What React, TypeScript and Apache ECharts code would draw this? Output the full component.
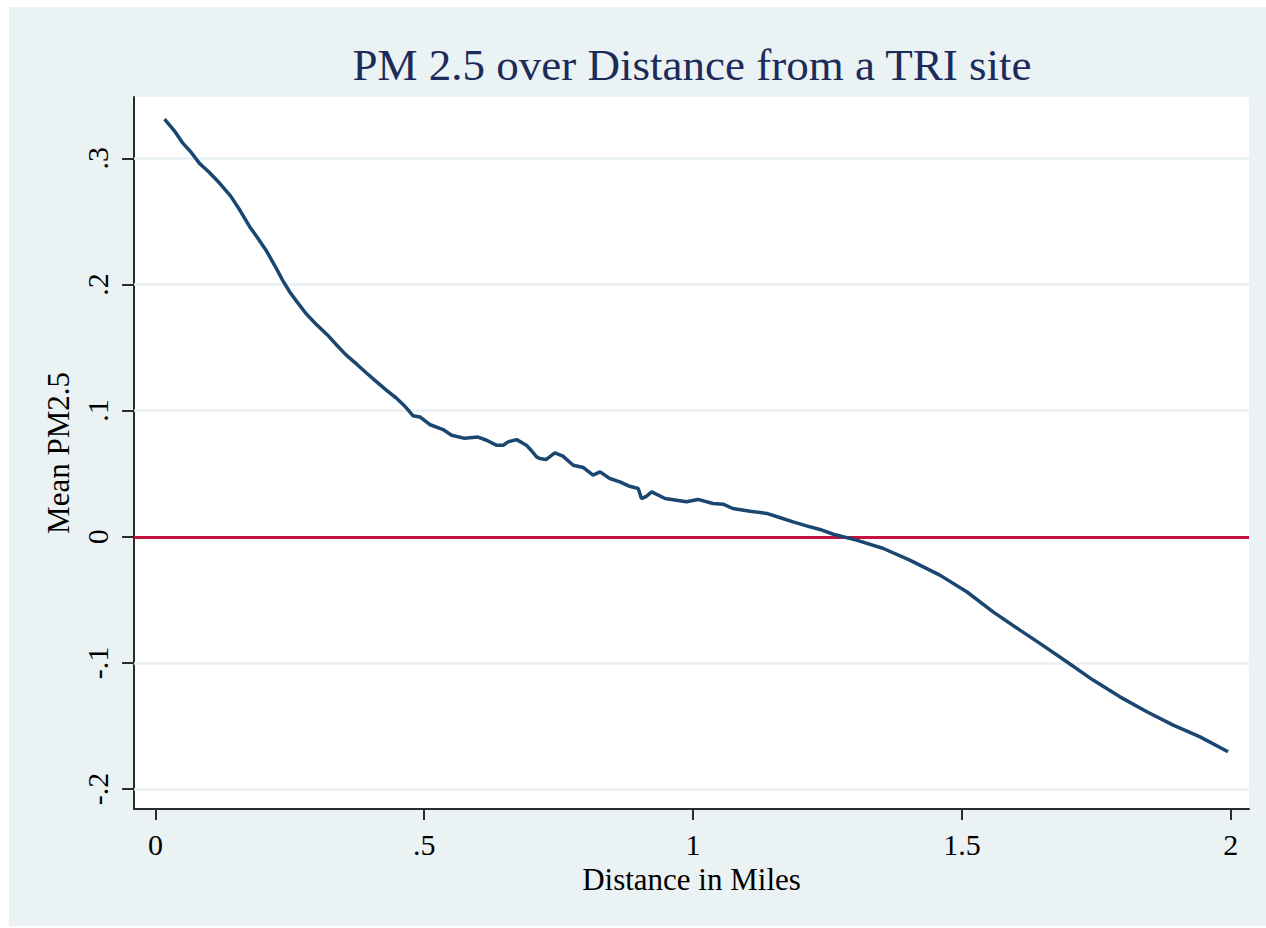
import React, { useEffect, useRef } from 'react';
import * as echarts from 'echarts';

const distance = [
  0.017, 0.035, 0.051, 0.066, 0.082, 0.1, 0.12, 0.14, 0.157, 0.175, 0.19, 0.206, 0.222, 0.237, 0.25,
  0.262, 0.28, 0.3, 0.32, 0.337, 0.355, 0.374, 0.392, 0.411, 0.43, 0.448, 0.465, 0.479, 0.492, 0.51,
  0.535, 0.551, 0.575, 0.6, 0.616, 0.634, 0.647, 0.656, 0.672, 0.69, 0.7, 0.709, 0.715, 0.727, 0.743,
  0.758, 0.777, 0.796, 0.814, 0.827, 0.845, 0.864, 0.882, 0.898, 0.904, 0.913, 0.923, 0.948, 0.969,
  0.988, 1.009, 1.037, 1.056, 1.074, 1.106, 1.137, 1.161, 1.186, 1.211, 1.236, 1.261, 1.304, 1.354,
  1.403, 1.459, 1.509, 1.558, 1.608, 1.645, 1.695, 1.744, 1.794, 1.844, 1.893, 1.943, 1.995,
];

const meanPM25 = [
  0.331, 0.322, 0.312, 0.305, 0.296, 0.289, 0.28, 0.27, 0.259, 0.246, 0.237, 0.227, 0.215, 0.203, 0.194,
  0.187, 0.177, 0.168, 0.16, 0.152, 0.144, 0.137, 0.13, 0.123, 0.116, 0.11, 0.103, 0.096, 0.095, 0.089,
  0.085, 0.0805, 0.078, 0.079, 0.0765, 0.0726, 0.0726, 0.0752, 0.077, 0.0726, 0.068, 0.0633, 0.062, 0.0613, 0.0665,
  0.0639, 0.0567, 0.0549, 0.0488, 0.0514, 0.0462, 0.0435, 0.04, 0.0383, 0.0303, 0.032, 0.0356, 0.0303, 0.029,
  0.0277, 0.0296, 0.0264, 0.0258, 0.0224, 0.0203, 0.0185, 0.0153, 0.0118, 0.0086, 0.0058, 0.002, -0.0027, -0.0093,
  -0.0185, -0.0304, -0.0436, -0.0595, -0.074, -0.0845, -0.0991, -0.1136, -0.1269, -0.1387, -0.1493, -0.1586, -0.1704,
];

const xTicks = [0, 0.5, 1, 1.5, 2];
const yTicks = [-0.2, -0.1, 0, 0.1, 0.2, 0.3];
const yGridValues = [-0.2, -0.1, 0.1, 0.2, 0.3];
const referenceValue = 0;

const titleText = 'PM 2.5 over Distance from a TRI site';
const xName = 'Distance in Miles';
const yName = 'Mean PM2.5';

const FONT = "'Liberation Serif', 'Times New Roman', serif";
const AXIS_COLOR = '#2b2b2b';

const fmt = (v: number) => {
  const s = String(v);
  return s.replace('0.', '.');
};

export default function App() {
  const ref = useRef<HTMLDivElement>(null);

  useEffect(() => {
    if (!ref.current) return;
    const chart = echarts.init(ref.current, null, { renderer: 'svg' });
    const points = distance.map((d, i) => [d, meanPM25[i]]);
    chart.setOption({
      animation: false,
      backgroundColor: '#eaf2f3',
      title: {
        text: titleText,
        left: 678,
        top: 30,
        textAlign: 'center',
        textVerticalAlign: 'top',
        textStyle: {
          fontFamily: FONT,
          fontSize: 45,
          fontWeight: 'normal',
          color: '#1c2b5a',
        },
      },
      grid: {
        left: 125,
        top: 90,
        width: 1115,
        height: 712,
        show: true,
        backgroundColor: '#ffffff',
        borderWidth: 0,
      },
      xAxis: {
        type: 'value',
        min: -0.0398,
        max: 2.034,
        name: xName,
        nameLocation: 'middle',
        nameGap: 50,
        nameTextStyle: { fontFamily: FONT, fontSize: 31, color: '#000' },
        axisLine: { show: true, onZero: false, lineStyle: { color: AXIS_COLOR, width: 2 } },
        axisTick: { show: true, customValues: xTicks, length: 11, lineStyle: { color: AXIS_COLOR, width: 2 } },
        axisLabel: {
          customValues: xTicks,
          formatter: fmt,
          margin: 20,
          fontFamily: FONT,
          fontSize: 30,
          color: '#000',
        },
        splitLine: { show: false },
      },
      yAxis: {
        type: 'value',
        min: -0.2158,
        max: 0.3486,
        name: yName,
        nameLocation: 'middle',
        nameRotate: 90,
        nameGap: 55,
        nameTextStyle: { fontFamily: FONT, fontSize: 31, color: '#000' },
        axisLine: { show: true, onZero: false, lineStyle: { color: AXIS_COLOR, width: 2 } },
        axisTick: { show: true, customValues: yTicks, length: 12, lineStyle: { color: AXIS_COLOR, width: 2 } },
        axisLabel: {
          customValues: yTicks,
          formatter: fmt,
          rotate: 90,
          margin: 22,
          fontFamily: FONT,
          fontSize: 30,
          color: '#000',
        },
        splitLine: { show: false },
      },
      series: [
        {
          type: 'line',
          data: points,
          showSymbol: false,
          symbol: 'none',
          z: 3,
          lineStyle: { color: '#1a476f', width: 3.5 },
          markLine: {
            silent: true,
            z: 2,
            symbol: ['none', 'none'],
            label: { show: false },
            data: [
              ...yGridValues.map((v) => ({
                yAxis: v,
                lineStyle: { color: '#e8f0f2', width: 2.5, type: 'solid' },
              })),
              {
                yAxis: referenceValue,
                lineStyle: { color: '#c4123e', width: 3, type: 'solid' },
              },
            ],
          },
        },
      ],
    });
    return () => chart.dispose();
  }, []);

  return (
    <div
      ref={ref}
      style={{ position: 'absolute', left: 9, top: 7, width: 1257, height: 919 }}
    />
  );
}
